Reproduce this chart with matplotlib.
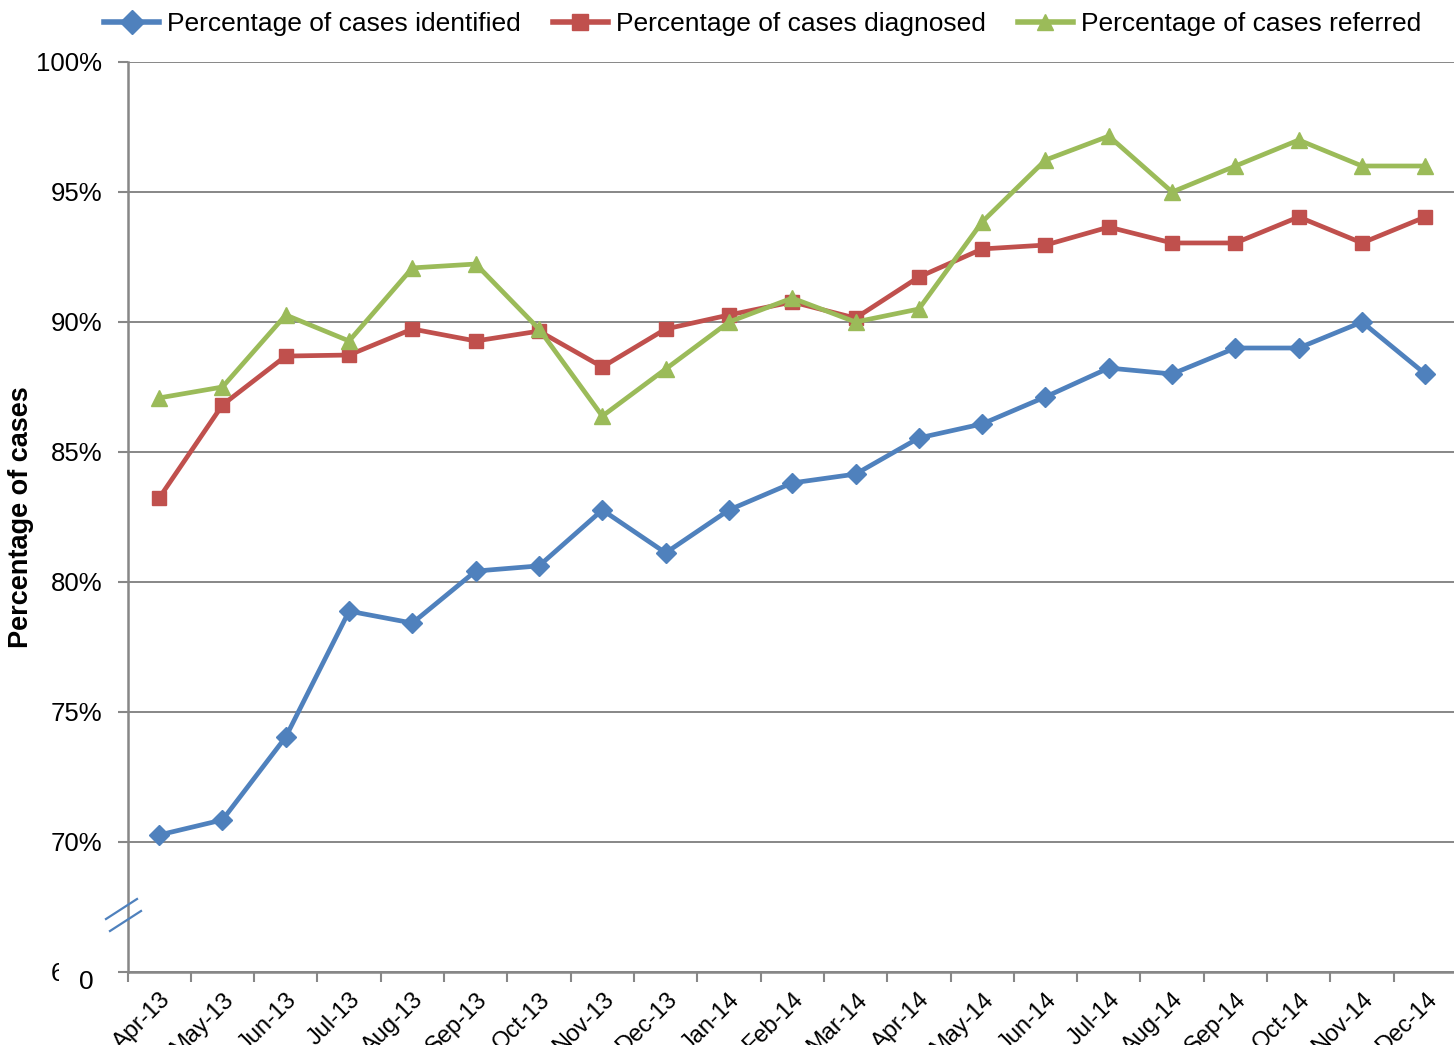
import matplotlib
matplotlib.use("Agg")
import matplotlib.pyplot as plt
from matplotlib.lines import Line2D
from matplotlib.patches import Rectangle
import numpy as np

plt.rcParams['font.family'] = ['Liberation Sans', 'DejaVu Sans']

months = ['Apr-13', 'May-13', 'Jun-13', 'Jul-13', 'Aug-13', 'Sep-13', 'Oct-13',
          'Nov-13', 'Dec-13', 'Jan-14', 'Feb-14', 'Mar-14', 'Apr-14', 'May-14',
          'Jun-14', 'Jul-14', 'Aug-14', 'Sep-14', 'Oct-14', 'Nov-14', 'Dec-14']

identified = [70.27, 70.85, 74.04, 78.88, 78.42, 80.42, 80.62, 82.77, 81.12, 82.77,
              83.81, 84.15, 85.54, 86.08, 87.12, 88.23, 88.0, 89.0, 89.0, 90.0, 88.0]
diagnosed = [83.23, 86.81, 88.69, 88.73, 89.73, 89.27, 89.65, 88.27, 89.73, 90.27,
             90.77, 90.15, 91.73, 92.81, 92.96, 93.65, 93.04, 93.04, 94.04, 93.04, 94.04]
referred = [87.08, 87.5, 90.27, 89.27, 92.08, 92.23, 89.73, 86.38, 88.19, 90.0,
            90.92, 90.0, 90.5, 93.85, 96.23, 97.15, 95.0, 96.0, 97.0, 96.0, 96.0]

series = [
    ('Percentage of cases identified', identified, '#4F81BD', 'D', 10),
    ('Percentage of cases diagnosed', diagnosed, '#C0504D', 's', 10),
    ('Percentage of cases referred', referred, '#9BBB59', '^', 12),
]

grey = '#878787'

fig = plt.figure(figsize=(14.54, 10.45), dpi=100)
ax = fig.add_axes([127.5 / 1454, 1 - 972 / 1045, (1457 - 127.5) / 1454, (972 - 62) / 1045])

x = np.arange(len(months))
for label, vals, color, marker, ms in series:
    ax.plot(x, vals, color=color, lw=3.4, marker=marker, markersize=ms,
            markerfacecolor=color, markeredgecolor=color, label=label, clip_on=False)

ax.set_xlim(-0.5, len(months) - 0.5)
ax.set_ylim(65, 100)
yt = np.arange(65, 101, 5)
ax.set_yticks(yt)
ax.set_yticklabels([f'{v}%' for v in yt], fontsize=18.5)
ax.yaxis.grid(True, color=grey, lw=1.4)
ax.set_axisbelow(True)

ax.set_xticks(x)
ax.set_xticklabels(months, rotation=45, ha='right', rotation_mode='anchor', fontsize=17)
ax.set_xticks(np.arange(-0.5, len(months), 1), minor=True)
ax.tick_params(axis='x', which='major', length=0, pad=12)
ax.tick_params(axis='x', which='minor', length=7, width=1.5, color=grey)
ax.tick_params(axis='y', length=7, width=1.5, color=grey, pad=11)

for s in ['top', 'right']:
    ax.spines[s].set_visible(False)
for s in ['left', 'bottom']:
    ax.spines[s].set_color(grey)
    ax.spines[s].set_linewidth(1.8)

ax.set_ylabel('Percentage of cases', fontsize=19.5, fontweight='bold')
ax.yaxis.set_label_coords(-0.0705, 0.5)

# axis break marks
for (x0, y0, x1, y1) in [(106, 919, 137, 899), (110, 931, 141, 911)]:
    fig.add_artist(Line2D([x0 / 1454, x1 / 1454], [1 - y0 / 1045, 1 - y1 / 1045],
                          transform=fig.transFigure, color='#4F81BD', lw=1.6))

# white box over the 65% label with a stray "0"
fig.add_artist(Rectangle((59 / 1454, 1 - 996 / 1045), 46 / 1454, 38 / 1045,
                         transform=fig.transFigure, facecolor='white', edgecolor='none', zorder=5))
fig.text(86.5 / 1454, 1 - 982 / 1045, '0', fontsize=19, ha='center', va='center', zorder=6)

leg = fig.legend(loc='center', bbox_to_anchor=(0.5245, 1 - 24 / 1045), ncol=3, frameon=False,
                 fontsize=19, handlelength=2.1, handletextpad=0.3, columnspacing=1.2,
                 borderaxespad=0)
for h in leg.legend_handles:
    h.set_linewidth(4)
    h.set_markersize(12)

fig.savefig('out.png', dpi=100)
